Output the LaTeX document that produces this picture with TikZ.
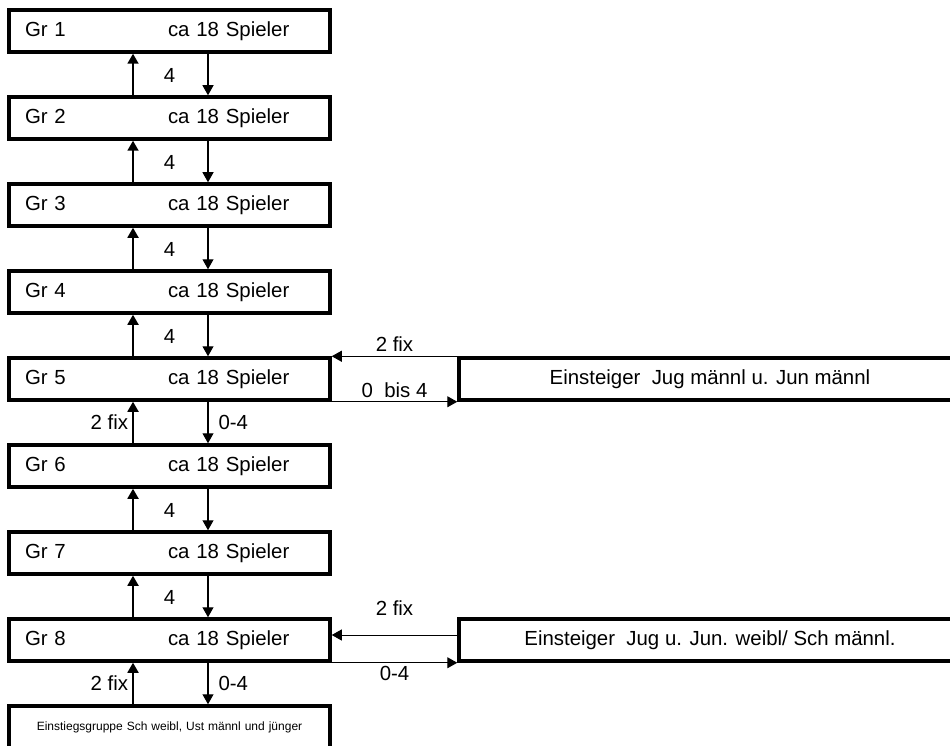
\documentclass[tikz,border=0pt]{standalone}
\usepackage{fontspec}
\setmainfont{Liberation Sans}
\usetikzlibrary{arrows.meta}
\begin{document}
\begin{tikzpicture}[x=1pt, y=-1pt, line join=miter, font=\fontsize{20.4}{24}\selectfont,
		gruppe/.style={draw, line width=3.5pt, minimum height=42pt, text width=289pt, inner xsep=16pt, inner ysep=0pt, align=left},
		einstieg/.style={draw, line width=3.5pt, minimum height=42pt, minimum width=502pt, inner sep=0pt},
		hoch/.style={-{Triangle[length=10pt,width=11pt]}, line width=1.8pt},
		runter/.style={-{Triangle[length=10pt,width=11pt]}, line width=1.1pt},
		quer/.style={-{Triangle[length=10pt,width=11pt]}, line width=1pt}]
	\useasboundingbox (0,0) rectangle (950,746);
	
	% Gruppen 1 bis 8
	\foreach \i in {1,...,8} {
		\node[gruppe] (g\i) at (169.5, {31+87*(\i-1)}) {\makebox[143pt][l]{Gr \i}ca 18 Spieler};
	}
	% Einstiegsgruppe unten
	\node[gruppe, align=center, font=\fontsize{12}{14}\selectfont] (g9) at (169.5, 727) {Einstiegsgruppe Sch weibl, Ust männl und jünger};
	
	% Einsteiger rechts
	\node[einstieg] (e1) at (710, 379) {Einsteiger~ Jug männl u. Jun männl};
	\node[einstieg] (e2) at (710, 640) {Einsteiger~ Jug u. Jun. weibl/ Sch männl.};
	
	% Auf- und Abstieg zwischen den Gruppen
	\foreach \i/\j in {1/2, 2/3, 3/4, 4/5, 6/7, 7/8} {
		\draw[hoch] ([xshift=-36.5pt]g\j.north) -- ([xshift=-36.5pt]g\i.south);
		\draw[runter] ([xshift=38.5pt]g\i.south) -- ([xshift=38.5pt]g\j.north);
		\node at ([yshift=-22pt]g\i.south) {4};
	}
	\foreach \i/\j in {5/6, 8/9} {
		\draw[hoch] ([xshift=-36.5pt]g\j.north) -- node[midway, left, inner sep=4pt] {2 fix} ([xshift=-36.5pt]g\i.south);
		\draw[runter] ([xshift=38.5pt]g\i.south) -- node[midway, right, inner xsep=10pt] {0-4} ([xshift=38.5pt]g\j.north);
	}
	
	% Zugang von rechts
	\draw[quer] (e1.north west) -- node[midway, above, inner ysep=4pt] {2 fix} (e1.north west -| g5.east);
	\draw[quer] (g5.south east) -- node[midway, above] {0~ bis 4} (g5.south east -| e1.west);
	\draw[quer] ([yshift=5pt]e2.west) -- node[midway, above=16pt] {2 fix} ([yshift=5pt]e2.west -| g8.east);
	\draw[quer] (g8.south east) -- node[midway, below] {0-4} (g8.south east -| e2.west);
\end{tikzpicture}
\end{document}
